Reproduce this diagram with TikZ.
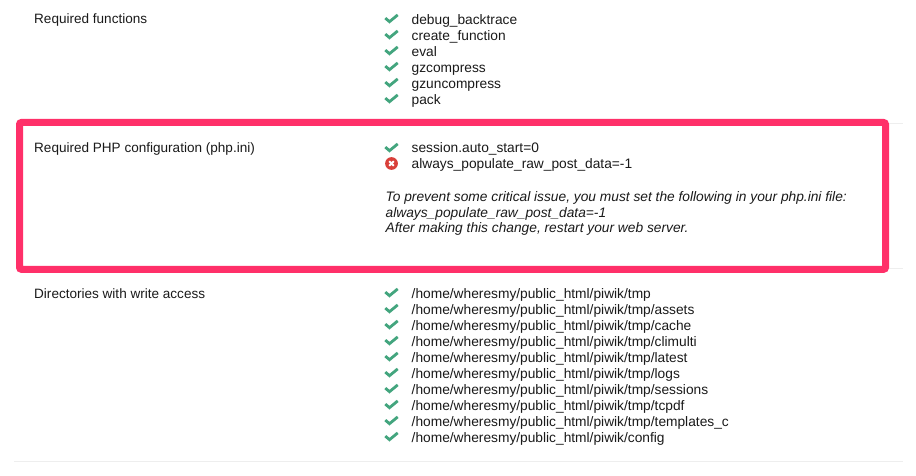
\documentclass[tikz,border=0pt]{standalone}
\usepackage{fontspec}
\setmainfont{Liberation Sans}
\definecolor{hot}{HTML}{FF3069}
\definecolor{okgreen}{HTML}{43A57E}
\definecolor{badred}{HTML}{D9403A}
\definecolor{rule}{HTML}{EEEEEE}
\definecolor{ink}{HTML}{1A1A1A}
\tikzset{
  x=1pt,y=-1pt,
  txt/.style={anchor=base west,inner sep=0pt,text=ink,font=\fontsize{13.75}{15}\selectfont},
  lab/.style={txt,font=\fontsize{13.55}{15}\selectfont},
  note/.style={txt,font=\fontsize{13.75}{15}\selectfont\itshape},
  tick/.pic={\draw[okgreen,line width=2.8pt,line join=miter] (-6.2,-0.2) -- (-2,3.4) -- (6.2,-3.4);},
  bad/.pic={\fill[badred] (0,0) circle (6.4);
    \draw[white,line width=1.9pt] (-2.3,-2.3) -- (2.3,2.3) (-2.3,2.3) -- (2.3,-2.3);},
  hairline/.style={rule,line width=1pt},
}
\begin{document}
\begin{tikzpicture}
\useasboundingbox[fill=white] (0,0) rectangle (916,476);
% hairlines
\draw[hairline] (880,123.5) -- (903,123.5);
\draw[hairline] (880,268.5) -- (903,268.5);
\coordinate (ruleL) at (14,461); \coordinate (ruleR) at (903,461);
\draw[hairline] (ruleL) -- (ruleR);
% left labels
\node[lab] (l1) at (34,24) {Required functions};
\node[lab] (l2) at (34,153) {Required PHP configuration (php.ini)};
\node[lab] (l3) at (34,298) {Directories with write access};
% first list
\foreach \t [count=\i] in {debug\_backtrace,create\_function,eval,gzcompress,gzuncompress,pack}{
  \pic at (391.5,{18.3+16*(\i-1)}) {tick};
  \node[txt] (f\i) at (411.5,{24.3+16*(\i-1)}) {\t};
}
% config
\pic at (391.5,147.3) {tick};
\node[txt] (c1) at (411.5,153) {session.auto\_start=0};
\pic at (391.5,163.5) {bad};
\node[txt] (c2) at (411.5,169) {always\_populate\_raw\_post\_data=-1};
\node[note] (n1) at (385.5,201.5) {To prevent some critical issue, you must set the following in your php.ini file:};
\node[note] (n2) at (385.5,217.5) {always\_populate\_raw\_post\_data=-1};
\node[note] (n3) at (385.5,233) {After making this change, restart your web server.};
% directories
\foreach \t [count=\i] in {tmp,tmp/assets,tmp/cache,tmp/climulti,tmp/latest,tmp/logs,tmp/sessions,tmp/tcpdf,tmp/templates\_c,config}{
  \pic at (391.5,{292.3+16*(\i-1)}) {tick};
  \node[txt] (d\i) at (411.5,{298+16*(\i-1)}) {/home/wheresmy/public\_html/piwik/\t};
}
% highlight box
\draw[hot,line width=7pt,rounded corners=2pt] (19.5,122.5) rectangle (885.5,269.3);
\end{tikzpicture}
\end{document}
